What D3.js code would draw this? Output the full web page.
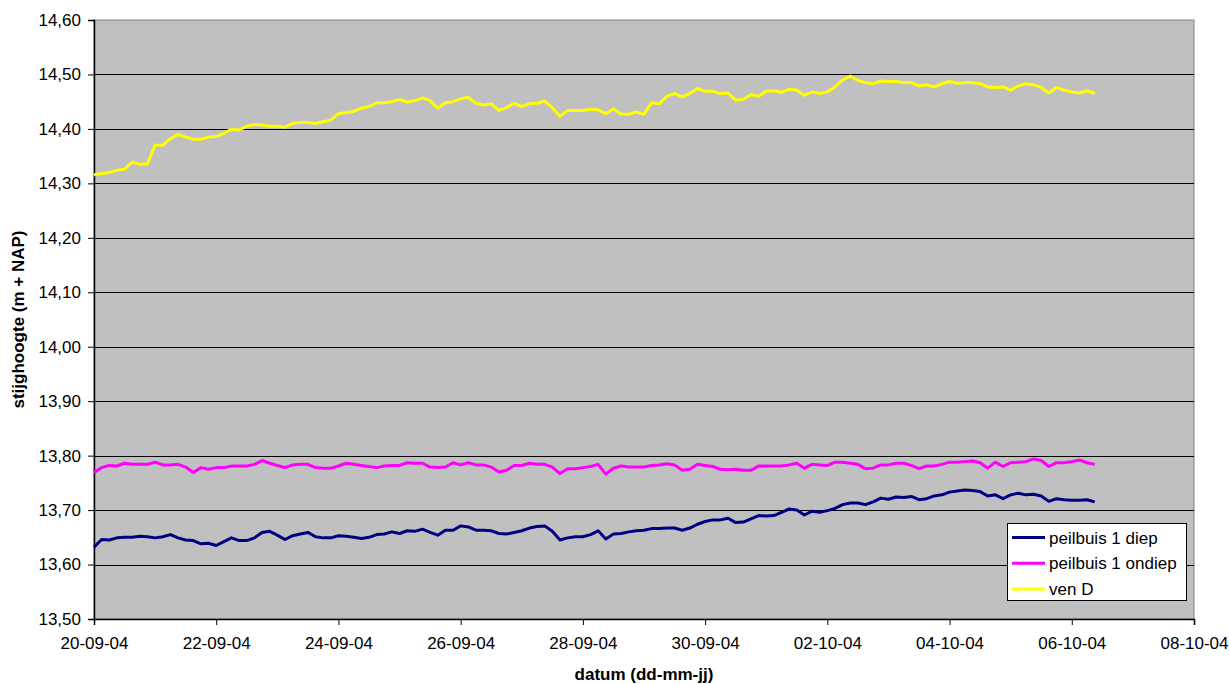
<!DOCTYPE html>
<html>
<head>
<meta charset="utf-8">
<script src="https://cdn.jsdelivr.net/npm/d3@7"></script>
<style>
  html, body { margin: 0; padding: 0; background: #ffffff; }
  svg { display: block; }
  text { font-family: "Liberation Sans", Arial, sans-serif; fill: #000; }
</style>
</head>
<body>
<svg id="chart" width="1229" height="684"></svg>
<script>
// ---- data (3-hourly readings starting 20-09-2004 00:00) ----
const startDate = "2004-09-20T00:00:00Z";
const stepHours = 3;

const peilbuis1Diep = [
13.632,13.646,13.645,13.649,13.650,13.650,13.652,13.651,13.649,13.651,
13.655,13.649,13.645,13.644,13.638,13.639,13.635,13.642,13.649,13.644,
13.644,13.649,13.659,13.661,13.654,13.646,13.653,13.656,13.659,13.651,
13.649,13.649,13.653,13.652,13.650,13.648,13.650,13.655,13.656,13.660,
13.657,13.662,13.661,13.665,13.659,13.654,13.663,13.663,13.671,13.669,
13.663,13.663,13.662,13.657,13.656,13.659,13.662,13.667,13.670,13.671,
13.661,13.645,13.649,13.651,13.651,13.655,13.662,13.647,13.656,13.657,
13.660,13.662,13.663,13.666,13.666,13.667,13.667,13.663,13.667,13.674,
13.679,13.682,13.682,13.685,13.677,13.678,13.684,13.690,13.689,13.690,
13.696,13.702,13.700,13.691,13.698,13.696,13.699,13.703,13.710,13.713,
13.713,13.710,13.715,13.722,13.720,13.724,13.723,13.725,13.719,13.721,
13.726,13.728,13.733,13.735,13.737,13.736,13.734,13.726,13.728,13.721,
13.728,13.731,13.728,13.729,13.726,13.716,13.721,13.719,13.718,13.718,
13.719,13.715];

const peilbuis1Ondiep = [
13.769,13.778,13.782,13.781,13.786,13.784,13.784,13.784,13.788,13.783,
13.783,13.784,13.779,13.769,13.778,13.775,13.778,13.778,13.781,13.781,
13.781,13.784,13.791,13.786,13.782,13.778,13.783,13.784,13.784,13.778,
13.777,13.777,13.781,13.786,13.784,13.782,13.780,13.778,13.781,13.782,
13.782,13.787,13.786,13.786,13.779,13.778,13.779,13.787,13.783,13.787,
13.783,13.783,13.779,13.770,13.773,13.782,13.782,13.786,13.784,13.784,
13.779,13.767,13.776,13.776,13.778,13.780,13.784,13.766,13.777,13.781,
13.779,13.779,13.779,13.782,13.783,13.785,13.783,13.773,13.775,13.784,
13.782,13.780,13.775,13.774,13.775,13.773,13.773,13.781,13.781,13.781,
13.781,13.783,13.786,13.777,13.784,13.783,13.782,13.788,13.788,13.786,
13.784,13.776,13.777,13.783,13.783,13.786,13.786,13.782,13.776,13.781,
13.781,13.784,13.788,13.788,13.789,13.790,13.787,13.777,13.788,13.780,
13.787,13.788,13.789,13.794,13.791,13.780,13.787,13.787,13.789,13.792,
13.787,13.784];

const venD = [
14.316,14.318,14.320,14.324,14.326,14.339,14.335,14.336,14.370,14.370,
14.382,14.390,14.385,14.381,14.381,14.385,14.386,14.392,14.399,14.398,
14.405,14.408,14.407,14.405,14.405,14.403,14.410,14.412,14.412,14.410,
14.413,14.416,14.428,14.430,14.432,14.438,14.441,14.448,14.448,14.450,
14.454,14.449,14.452,14.457,14.452,14.438,14.448,14.450,14.455,14.458,
14.447,14.444,14.446,14.434,14.439,14.447,14.441,14.446,14.447,14.451,
14.439,14.423,14.434,14.434,14.434,14.436,14.435,14.428,14.437,14.427,
14.427,14.431,14.427,14.448,14.446,14.460,14.465,14.459,14.465,14.474,
14.469,14.469,14.465,14.466,14.453,14.454,14.463,14.460,14.469,14.470,
14.467,14.473,14.471,14.462,14.468,14.465,14.468,14.477,14.490,14.497,
14.489,14.485,14.483,14.488,14.487,14.487,14.485,14.485,14.479,14.481,
14.477,14.483,14.487,14.484,14.485,14.485,14.483,14.477,14.476,14.477,
14.471,14.479,14.483,14.481,14.476,14.466,14.476,14.471,14.468,14.466,
14.470,14.465];

const seriesNames = ["peilbuis 1 diep", "peilbuis 1 ondiep", "ven D"];
const seriesColors = ["#000080", "#FF00FF", "#FFFF00"];
const xDomain = ["2004-09-20T00:00:00Z", "2004-10-08T00:00:00Z"];
const xTickDates = ["2004-09-20","2004-09-22","2004-09-24","2004-09-26","2004-09-28",
                    "2004-09-30","2004-10-02","2004-10-04","2004-10-06","2004-10-08"];
const yDomain = [13.50, 14.60];
const yTicks = [13.50,13.60,13.70,13.80,13.90,14.00,14.10,14.20,14.30,14.40,14.50,14.60];
const xTitle = "datum (dd-mm-jj)";
const yTitle = "stijghoogte (m + NAP)";

// ---- drawing ----
const svg = d3.select("#chart");
const L = 94, R = 1194, T = 20, B = 619;

const x = d3.scaleUtc().domain(xDomain.map(d => new Date(d))).range([L, R]);
const y = d3.scaleLinear().domain(yDomain).range([B, T]);

const nl = d3.formatLocale({decimal: ",", thousands: ".", grouping: [3], currency: ["€", ""]});
const yFmt = nl.format(".2f");
const xFmt = d3.utcFormat("%d-%m-%y");

const t0 = new Date(startDate).getTime();
function toPoints(arr) {
  return arr.map((v, i) => ({ t: new Date(t0 + i * stepHours * 3600 * 1000), v }));
}
const allSeries = [peilbuis1Diep, peilbuis1Ondiep, venD].map(toPoints);

// plot background
svg.append("rect")
  .attr("x", L).attr("y", T).attr("width", R - L).attr("height", B - T)
  .attr("fill", "#C0C0C0").attr("stroke", "#808080").attr("stroke-width", 1);

// gridlines
svg.append("g").selectAll("line")
  .data(yTicks.filter(v => v > yDomain[0] && v < yDomain[1]))
  .join("line")
  .attr("x1", L).attr("x2", R)
  .attr("y1", d => Math.round(y(d)) + 0.5).attr("y2", d => Math.round(y(d)) + 0.5)
  .attr("stroke", "#000").attr("stroke-width", 1);

// y axis
const yAxis = d3.axisLeft(y).tickValues(yTicks).tickFormat(yFmt).tickSize(6).tickPadding(7);
const gy = svg.append("g").attr("transform", `translate(${L},0)`).call(yAxis);
gy.select(".domain").attr("stroke", "#000").attr("stroke-width", 1.5);
gy.selectAll(".tick line").attr("stroke", "#000");
gy.selectAll(".tick text").attr("font-size", 17).attr("font-family", "Liberation Sans, Arial, sans-serif");

// x axis
const xAxis = d3.axisBottom(x)
  .tickValues(xTickDates.map(d => new Date(d + "T00:00:00Z")))
  .tickFormat(xFmt).tickSize(6).tickPadding(12);
const gx = svg.append("g").attr("transform", `translate(0,${B})`).call(xAxis);
gx.select(".domain").attr("stroke", "#000").attr("stroke-width", 1.5);
gx.selectAll(".tick line").attr("stroke", "#000");
gx.selectAll(".tick text").attr("font-size", 17).attr("font-family", "Liberation Sans, Arial, sans-serif");

// lines
const line = d3.line().x(d => x(d.t)).y(d => y(d.v));
svg.append("g").selectAll("path")
  .data(allSeries)
  .join("path")
  .attr("d", line)
  .attr("fill", "none")
  .attr("stroke", (d, i) => seriesColors[i])
  .attr("stroke-width", 3)
  .attr("stroke-linejoin", "round");

// axis titles
svg.append("text")
  .attr("x", (L + R) / 2).attr("y", 680)
  .attr("text-anchor", "middle")
  .attr("font-size", 17).attr("font-weight", "bold")
  .text(xTitle);

svg.append("text")
  .attr("transform", `translate(24,${(T + B) / 2}) rotate(-90)`)
  .attr("text-anchor", "middle")
  .attr("font-size", 17).attr("font-weight", "bold")
  .text(yTitle);

// legend
const lg = svg.append("g");
lg.append("rect")
  .attr("x", 1007.5).attr("y", 523.5).attr("width", 179).attr("height", 77)
  .attr("fill", "#fff").attr("stroke", "#000").attr("stroke-width", 1);
const rows = lg.selectAll("g.row").data(seriesNames).join("g")
  .attr("transform", (d, i) => `translate(0,${537.5 + i * 25.7})`);
rows.append("line")
  .attr("x1", 1012).attr("x2", 1045).attr("y1", 0).attr("y2", 0)
  .attr("stroke", (d, i) => seriesColors[i]).attr("stroke-width", 3);
rows.append("text")
  .attr("x", 1049).attr("y", 6)
  .attr("font-size", 17)
  .text(d => d);
</script>
</body>
</html>
